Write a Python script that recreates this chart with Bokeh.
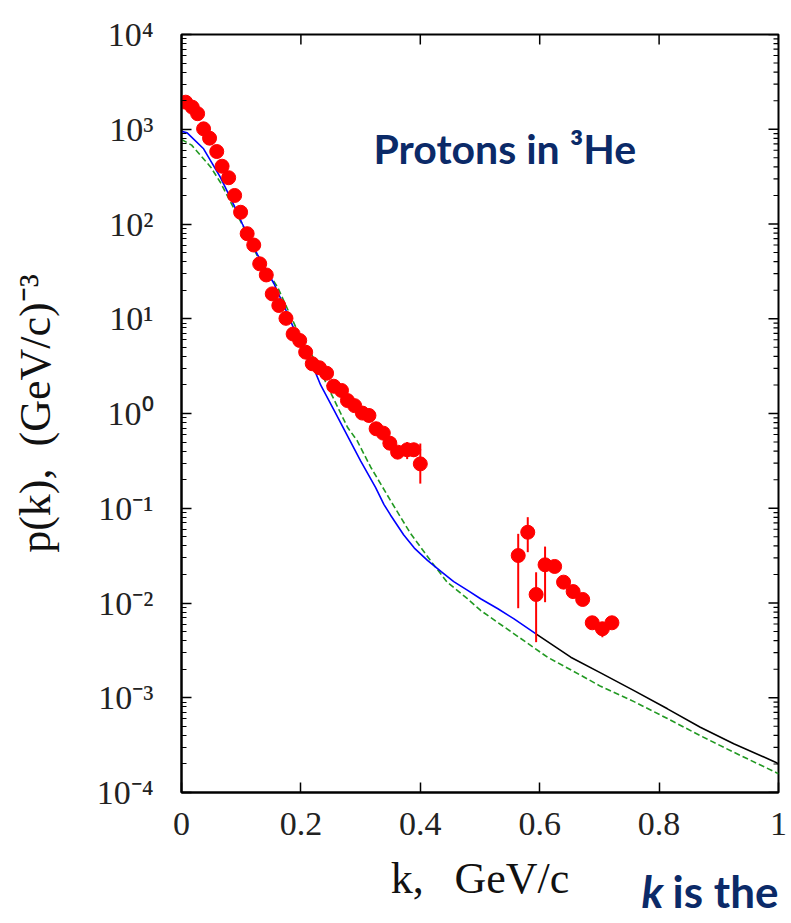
import math
from bokeh.plotting import figure
from bokeh.models import FixedTicker, Label, Title
from bokeh.embed import file_html
from bokeh.resources import INLINE

# ---------------- data ----------------
# measured proton momentum distribution (red points), first k range
k_data1 = [0.007, 0.018, 0.027, 0.037, 0.047, 0.059, 0.068, 0.079, 0.089, 0.099,
           0.110, 0.121, 0.131, 0.142, 0.152, 0.163, 0.175, 0.187, 0.198, 0.208,
           0.219, 0.231, 0.243, 0.255, 0.268, 0.278, 0.290, 0.303, 0.314, 0.326,
           0.338, 0.349, 0.362, 0.378, 0.389, 0.400]
p_data1 = [1930, 1710, 1460, 1010, 805, 582, 407, 308, 200, 133,
           79, 60, 38, 29, 18.3, 13.8, 10.1, 6.9, 5.9, 4.44,
           3.35, 3.04, 2.66, 1.94, 1.75, 1.37, 1.21, 1.01, 0.953, 0.69,
           0.62, 0.486, 0.391, 0.414, 0.414, 0.294]
lo_data1 = [1930, 1710, 1460, 1010, 805, 582, 407, 308, 200, 133,
            79, 60, 38, 29, 18.3, 13.8, 10.1, 6.9, 5.9, 4.44,
            3.35, 3.04, 2.66, 1.94, 1.75, 1.37, 1.21, 1.01, 0.953, 0.69,
            0.62, 0.486, 0.391, 0.33, 0.35, 0.182]
hi_data1 = [1930, 1710, 1460, 1010, 805, 582, 407, 308, 200, 133,
            79, 60, 38, 29, 18.3, 13.8, 10.1, 6.9, 5.9, 4.44,
            3.35, 3.04, 2.66, 1.94, 1.75, 1.37, 1.21, 1.01, 0.953, 0.69,
            0.62, 0.486, 0.391, 0.50, 0.49, 0.482]

# second k range
k_data2 = [0.564, 0.580, 0.594, 0.609, 0.625, 0.640, 0.656, 0.672, 0.688, 0.705, 0.721]
p_data2 = [0.0317, 0.0558, 0.0123, 0.0253, 0.0243, 0.0166, 0.0132, 0.0109, 0.00618, 0.00535, 0.00618]
lo_data2 = [0.00881, 0.0344, 0.00386, 0.0102, 0.0243, 0.0166, 0.0132, 0.0109, 0.00618, 0.00435, 0.00618]
hi_data2 = [0.0537, 0.0805, 0.0211, 0.0394, 0.0243, 0.0166, 0.0132, 0.0109, 0.00618, 0.00535, 0.00618]

# theory curve, solid blue part
k_blue = [0.0, 0.0095, 0.037, 0.065, 0.088, 0.102, 0.127, 0.155, 0.177, 0.190,
          0.205, 0.216, 0.224, 0.233, 0.255, 0.280, 0.300, 0.325, 0.339, 0.350,
          0.372, 0.390, 0.412, 0.435, 0.456, 0.480, 0.501, 0.530, 0.557, 0.595]
p_blue = [950, 917, 622, 312, 157, 100, 47.9, 23.4, 11.5, 7.4,
          4.8, 3.55, 2.75, 2.0, 1.10, 0.55, 0.316, 0.166, 0.110, 0.085,
          0.0525, 0.038, 0.0282, 0.0214, 0.0168, 0.0135, 0.0111, 0.0087, 0.0068, 0.00466]

# theory curve continuation, solid black part
k_black = [0.595, 0.652, 0.702, 0.758, 0.814, 0.869, 0.925, 0.995, 1.0]
p_black = [0.00466, 0.00268, 0.00183, 0.00119, 0.000764, 0.000489, 0.000327, 0.000209, 0.0002]

# second theory curve, dashed green
k_green = [0.0, 0.017, 0.049, 0.065, 0.102, 0.127, 0.161, 0.194, 0.227, 0.244,
           0.278, 0.294, 0.317, 0.350, 0.384, 0.417, 0.445, 0.479, 0.501, 0.557,
           0.613, 0.680, 0.702, 0.758, 0.814, 0.869, 0.925, 1.0]
p_green = [780, 680, 398, 276, 98, 46, 21.5, 7.5, 3.35, 1.98,
           0.716, 0.519, 0.271, 0.121, 0.0537, 0.0281, 0.0166, 0.0111, 0.00834, 0.00473,
           0.00268, 0.00158, 0.00132, 0.00091, 0.000603, 0.000398, 0.000266, 0.000158]

x_ticks = [0, 0.2, 0.4, 0.6, 0.8, 1]
x_tick_labels = ["0", "0.2", "0.4", "0.6", "0.8", "1"]
y_exponents = [-4, -3, -2, -1, 0, 1, 2, 3, 4]
y_tick_labels = ["10\u207b\u2074", "10\u207b\u00b3", "10\u207b\u00b2", "10\u207b\u00b9",
                 "10\u2070", "10\u00b9", "10\u00b2", "10\u00b3", "10\u2074"]

title_text = "Protons in \u00b3He"
x_label = "k,\u2002\u2009GeV/c"
y_label = "p(k),\u2002(GeV/c)\u207b\u00b3"
note_k = "k"
note_rest = "is the"

# ---------------- figure ----------------
NAVY = "#0b2a68"
SERIF = "Liberation Serif"

p = figure(width=791, height=923, x_range=(0, 1), y_range=(1e-4, 1e4),
           y_axis_type="log", output_backend="svg", toolbar_location=None,
           min_border_left=181, min_border_right=13, min_border_top=34,
           min_border_bottom=131)
p.xgrid.visible = False
p.ygrid.visible = False
p.outline_line_color = "black"
p.outline_line_width = 2
p.background_fill_color = "white"
p.border_fill_color = "white"

y_major = [10.0 ** e for e in y_exponents]
y_minor = [m * 10.0 ** e for e in y_exponents[:-1] for m in range(2, 10)]


def style_axis(ax):
    ax.axis_line_color = "black"
    ax.axis_line_width = 2
    ax.major_tick_in = 10
    ax.major_tick_out = 0
    ax.minor_tick_in = 5
    ax.minor_tick_out = 0
    ax.major_tick_line_width = 1.5
    ax.minor_tick_line_width = 1.2
    ax.major_tick_line_color = "black"
    ax.minor_tick_line_color = "black"
    ax.major_label_text_font = SERIF
    ax.major_label_text_font_size = "34px"
    ax.major_label_text_color = "#222222"
    ax.axis_label_text_font = SERIF
    ax.axis_label_text_font_size = "44px"
    ax.axis_label_text_font_style = "normal"
    ax.axis_label_text_color = "#111111"


xa = p.xaxis[0]
xa.ticker = FixedTicker(ticks=x_ticks)
xa.major_label_overrides = dict(zip(x_ticks, x_tick_labels))
style_axis(xa)
xa.minor_tick_line_color = None
xa.major_label_standoff = 20
xa.axis_label = x_label
xa.axis_label_standoff = 16

ya = p.yaxis[0]
ya.ticker = FixedTicker(ticks=y_major, minor_ticks=y_minor)
ya.major_label_overrides = dict(zip(y_major, y_tick_labels))
style_axis(ya)
ya.major_label_standoff = 28
ya.axis_label = y_label
ya.axis_label_standoff = 34

# inward ticks on the top and right frame edges
n_x = len(x_ticks)
p.ray(x=x_ticks, y=[y_major[-1]] * n_x, length=10, angle=-math.pi / 2,
      length_units="screen", line_color="black", line_width=1.5)
p.ray(x=[x_ticks[-1]] * len(y_major), y=y_major, length=10, angle=math.pi,
      length_units="screen", line_color="black", line_width=1.5)
p.ray(x=[x_ticks[-1]] * len(y_minor), y=y_minor, length=5, angle=math.pi,
      length_units="screen", line_color="black", line_width=1.2)

# curves
p.line(k_green, p_green, line_color="#229922", line_width=1.6, line_dash="6 3")
p.line(k_blue, p_blue, line_color="#0000ff", line_width=1.6)
p.line(k_black, p_black, line_color="black", line_width=1.6)

# data with error bars
p.segment(x0=k_data1, y0=lo_data1, x1=k_data1, y1=hi_data1, line_color="red", line_width=2)
p.segment(x0=k_data2, y0=lo_data2, x1=k_data2, y1=hi_data2, line_color="red", line_width=2)
p.scatter(k_data1, p_data1, size=14, fill_color="red", line_color="red")
p.scatter(k_data2, p_data2, size=14, fill_color="red", line_color="red")

# in-plot caption
p.add_layout(Label(x=0.3216, y=627, text=title_text, text_font="Lato",
                   text_font_style="bold", text_font_size="41px", text_color=NAVY,
                   text_baseline="alphabetic", text_align="left"))

# slide text at the lower right, below the plot frame (negative standoff keeps
# it on the same row as the axis title instead of adding height)
p.add_layout(Title(text=note_rest, align="right", vertical_align="top", standoff=-82,
                   text_font="Lato", text_font_style="bold", text_font_size="44px",
                   text_color=NAVY), "below")
p.add_layout(Title(text=note_k, align="left", vertical_align="top", standoff=-82, offset=460,
                   text_font="Lato", text_font_style="bold italic", text_font_size="44px",
                   text_color=NAVY), "below")

open("out.html", "w").write(file_html(p, INLINE))
